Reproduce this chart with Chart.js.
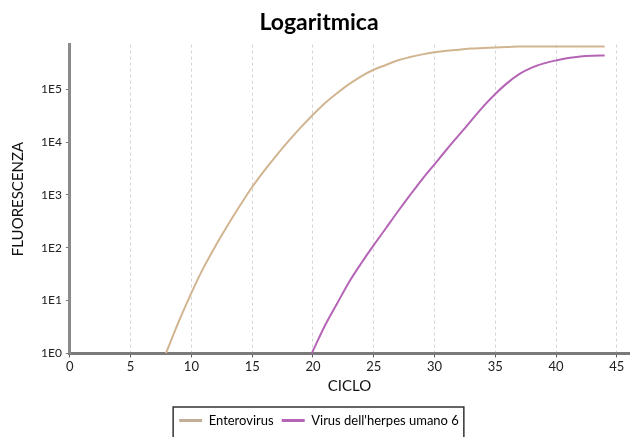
<!DOCTYPE html>
<html>
<head>
<meta charset="utf-8">
<script src="https://cdn.jsdelivr.net/npm/chart.js@4/dist/chart.umd.min.js"></script>
<style>
  html, body { margin: 0; padding: 0; background: #fff; }
  #wrap { width: 634px; height: 437px; }
</style>
</head>
<body>
<div id="wrap"><canvas id="qpcrChart" width="634" height="437"></canvas></div>
<script>
// values (log scale fluorescence per cycle)
const entCycles = [7.9, 9, 10, 11, 12, 13, 14, 15, 16, 17, 18, 19, 20, 21, 22, 23, 24, 25, 26, 27, 28, 29, 30, 31, 32, 33, 34, 35, 36, 37, 38, 39, 40, 41, 42, 43, 44];
const entValues = [1, 4.2, 14, 42, 110, 270, 630, 1410, 2880, 5600, 10500, 19000, 33000, 55000, 85000, 126000, 178000, 234000, 288000, 355000, 407000, 457000, 501000, 537000, 562000, 589000, 603000, 617000, 631000, 646000, 646000, 646000, 646000, 646000, 646000, 646000, 646000];

const hhvCycles = [19.9, 21, 22, 23, 24, 25, 26, 27, 28, 29, 30, 31, 32, 33, 34, 35, 36, 37, 38, 39, 40, 41, 42, 43, 44];
const hhvValues = [1, 3.4, 8.9, 23, 52, 112, 234, 490, 1000, 2000, 3800, 7240, 13500, 25100, 46800, 81300, 132000, 195000, 257000, 309000, 351000, 389000, 417000, 432000, 437000];

const seriesNames = ['Enterovirus', "Virus dell'herpes umano 6"];
const seriesColors = ['#d1b590', '#b565b5'];
const legendColors = ['#c2ae96', '#b565b5'];

const xTicks = [0, 5, 10, 15, 20, 25, 30, 35, 40, 45];
const yTicks = [1, 10, 100, 1000, 10000, 100000];
const yTickLabels = ['1E0', '1E1', '1E2', '1E3', '1E4', '1E5'];

const baseFont = 'Lato, "Open Sans", sans-serif';

function toPoints(xs, ys) {
    return xs.map((x, i) => ({ x: x, y: ys[i] }));
}

// draws the frame around the legend
const legendBox = {
    id: 'legendBox',
    afterDraw(chart) {
        const lg = chart.legend;
        if (!lg || !lg.legendHitBoxes.length) return;
        const boxes = lg.legendHitBoxes;
        const left = boxes[0].left - 6;
        const right = boxes[boxes.length - 1].left + boxes[boxes.length - 1].width + 5;
        const ctx = chart.ctx;
        ctx.save();
        ctx.strokeStyle = '#333';
        ctx.lineWidth = 1.5;
        ctx.beginPath();
        ctx.moveTo(left, 440);
        ctx.lineTo(left, lg.top + 1);
        ctx.lineTo(right, lg.top + 1);
        ctx.lineTo(right, 440);
        ctx.stroke();
        ctx.restore();
    }
};

const ctx = document.getElementById('qpcrChart').getContext('2d');
const qpcrChart = new Chart(ctx, {
    type: 'line',
    data: {
        datasets: [{
            label: seriesNames[0],
            data: toPoints(entCycles, entValues),
            borderColor: seriesColors[0],
            backgroundColor: legendColors[0],
            borderWidth: 2,
            pointRadius: 0,
            cubicInterpolationMode: 'monotone'
        }, {
            label: seriesNames[1],
            data: toPoints(hhvCycles, hhvValues),
            borderColor: seriesColors[1],
            backgroundColor: legendColors[1],
            borderWidth: 2,
            pointRadius: 0,
            cubicInterpolationMode: 'monotone'
        }]
    },
    options: {
        responsive: false,
        animation: false,
        devicePixelRatio: 1,
        layout: { padding: { left: 9, right: 5, top: 0, bottom: 0 } },
        plugins: {
            title: {
                display: true,
                text: 'Logaritmica',
                color: '#000',
                font: { family: baseFont, size: 23, weight: 'bold' },
                padding: { top: 9, bottom: 8 }
            },
            legend: {
                position: 'bottom',
                labels: {
                    color: '#111',
                    font: { family: baseFont, size: 13 },
                    boxWidth: 23,
                    boxHeight: 3,
                    padding: 8,
                    generateLabels(chart) {
                        return chart.data.datasets.map((ds, i) => ({
                            text: ds.label,
                            fillStyle: legendColors[i],
                            strokeStyle: legendColors[i],
                            lineWidth: 0,
                            datasetIndex: i,
                            hidden: false
                        }));
                    }
                }
            },
            tooltip: { enabled: false }
        },
        scales: {
            x: {
                type: 'linear',
                min: 0,
                max: 46,
                afterBuildTicks(axis) {
                    axis.ticks = xTicks.map(v => ({ value: v }));
                },
                ticks: {
                    color: '#222',
                    font: { family: baseFont, size: 13 },
                    padding: 2,
                    maxRotation: 0
                },
                grid: {
                    color: '#d4d4d4',
                    lineWidth: 1,
                    tickLength: 4,
                    tickColor: '#555',
                    tickBorderDash: []
                },
                border: { display: true, color: '#7a7a7a', width: 3, dash: [3, 3] },
                title: {
                    display: true,
                    text: 'CICLO',
                    color: '#111',
                    font: { family: baseFont, size: 15 },
                    padding: { top: 0, bottom: 11 }
                }
            },
            y: {
                type: 'logarithmic',
                min: 1,
                max: 700000,
                afterBuildTicks(axis) {
                    axis.ticks = yTicks.map(v => ({ value: v }));
                },
                ticks: {
                    color: '#222',
                    font: { family: baseFont, size: 12 },
                    padding: 4,
                    callback(value) {
                        const i = yTicks.indexOf(value);
                        return i >= 0 ? yTickLabels[i] : '';
                    }
                },
                grid: {
                    drawOnChartArea: false,
                    tickLength: 4,
                    tickColor: '#777'
                },
                border: { display: true, color: '#8a8a8a', width: 3 },
                title: {
                    display: true,
                    text: 'FLUORESCENZA',
                    color: '#111',
                    font: { family: baseFont, size: 15 },
                    padding: { top: 0, bottom: 10 }
                }
            }
        }
    },
    plugins: [legendBox]
});
</script>
</body>
</html>
